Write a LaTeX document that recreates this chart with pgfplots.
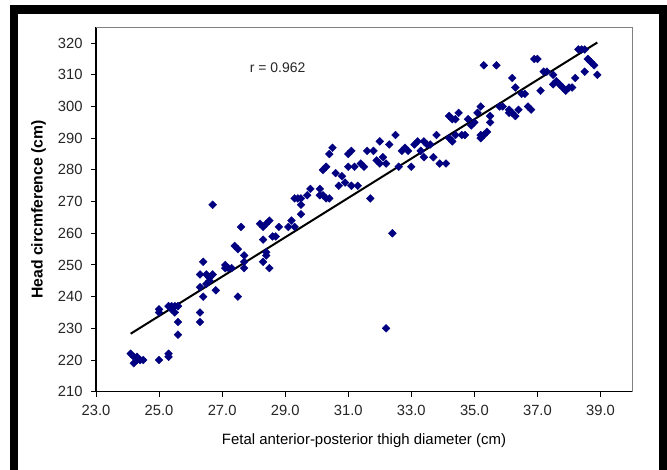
\documentclass[border=0pt]{standalone}
\usepackage{fontspec}
\setmainfont{Liberation Sans}
\usepackage{pgfplots}
\pgfplotsset{compat=1.18}
\definecolor{navyblue}{RGB}{0,0,128}
\begin{document}
\begin{tikzpicture}
\useasboundingbox (0,0) rectangle (667bp,470bp);
\fill[white] (0,0) rectangle (667bp,470bp);
\fill[black] (10bp,0) rectangle (18bp,465bp);
\fill[black] (10bp,456bp) rectangle (667bp,465bp);
\fill[black] (659bp,0) rectangle (667bp,465bp);
\begin{axis}[
  at={(96bp,78.3bp)}, anchor=south west,
  scale only axis, width=536bp, height=364.4bp,
  xmin=23, xmax=40, ymin=210, ymax=325,
  axis x line*=bottom, axis y line*=left,
  axis line style={-, black, line width=1.1bp},
  xtick={23,25,...,39}, ytick={210,220,...,320},
  tick align=outside, major tick length=5bp,
  tick style={black, line width=1bp},
  x tick label style={/pgf/number format/fixed, /pgf/number format/fixed zerofill, /pgf/number format/precision=1, yshift=-5bp},
  /pgf/number format/assume math mode=true,
  tick label style={font=\fontsize{14.8}{17}\selectfont, text=black!85},
  y tick label style={xshift=-5bp},
  xlabel={Fetal anterior-posterior thigh diameter (cm)},
  ylabel={Head circmference (cm)},
  xlabel style={at={(axis description cs:0.5,-0.1353)}, anchor=center, font=\fontsize{15}{17}\selectfont},
  ylabel style={at={(axis description cs:-0.1073,0.5)}, anchor=center, font=\fontsize{15.8}{18}\selectfont\bfseries},
  clip=false,
]
\draw[gray, line width=0.8bp] (rel axis cs:0,1) -- (rel axis cs:1,1) -- (rel axis cs:1,0);
\addplot[only marks, mark=square*, mark size=2.75bp, mark options={rotate=45, fill=navyblue, draw=navyblue}] table {
x y
24.1 222
24.2 221
24.2 219
24.3 220
24.4 220
24.3 221
24.5 220
25.0 220
25.3 222
25.3 221
25.0 236
25.0 235
25.3 237
25.4 237
25.5 237
25.6 237
25.5 235
25.4 236
25.6 232
25.6 228
26.3 235
26.3 232
26.3 243
26.3 247
26.4 251
26.4 240
26.5 247
26.6 245
26.7 247
26.5 244
26.6 246
26.8 242
26.7 269
27.1 250
27.2 249
27.3 249
27.1 249
27.5 240
27.4 256
27.5 255
27.6 262
27.7 253
27.7 249
27.7 251
28.2 263
28.3 262
28.4 263
28.5 264
28.3 258
28.3 251
28.4 254
28.4 253
28.5 249
28.6 259
28.7 259
28.8 262
29.1 262
29.2 264
29.3 262
29.5 266
29.5 269
29.3 271
29.4 271
29.5 271
29.7 272
29.8 274
30.1 274
30.1 272
30.2 272
30.3 271
30.4 271
30.2 280
30.3 281
30.4 285
30.5 287
30.6 279
30.7 275
30.8 278
30.9 276
31.0 285
31.1 286
31.0 281
31.1 275
31.2 281
31.3 275
31.4 282
31.5 281
31.6 286
31.7 271
31.8 286
31.9 283
32.0 289
32.0 282
32.1 284
32.2 282
32.2 230
32.3 288
32.4 260
32.5 291
32.6 281
32.7 286
32.8 287
32.9 286
33.0 281
33.1 288
33.2 289
33.3 286
33.4 289
33.4 284
33.5 288
33.6 288
33.7 284
33.8 291
33.9 282
34.1 282
34.2 297
34.3 296
34.2 290
34.3 289
34.4 291
34.4 296
34.5 298
34.6 291
34.7 291
34.8 296
34.9 294
35.0 295
35.1 298
35.2 300
35.2 290
35.2 291
35.3 291
35.4 292
35.3 313
35.7 313
35.5 295
35.5 297
35.8 300
35.9 300
36.1 298
36.1 299
36.2 298
36.3 297
36.4 299
36.2 309
36.3 306
36.5 304
36.6 304
36.7 300
36.8 299
36.9 315
37.0 315
37.1 305
37.2 311
37.3 311
37.5 310
37.5 307
37.6 308
37.7 307
37.8 306
37.9 305
38.0 306
38.1 306
38.2 309
38.3 318
38.4 318
38.5 318
38.5 311
38.6 315
38.7 314
38.8 313
38.9 310
};
\addplot[black, line width=2bp, no marks] coordinates {(24.1,228.3) (38.9,320.2)};
\node[font=\fontsize{14}{16}\selectfont, text=black!85] at (axis cs:28.76,312.4) {r = 0.962};
\end{axis}
\end{tikzpicture}
\end{document}
